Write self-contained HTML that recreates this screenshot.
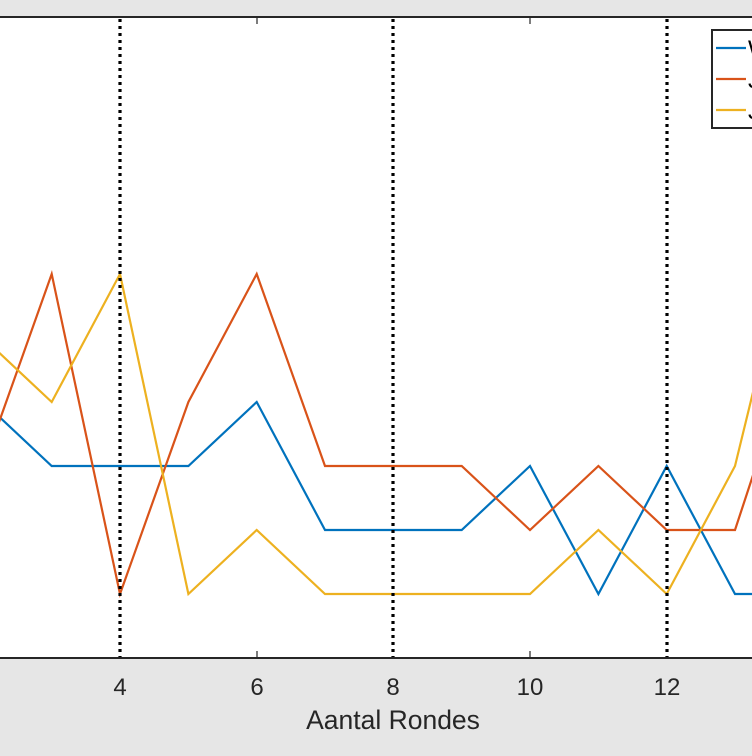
<!DOCTYPE html>
<html><head><style>body{margin:0;background:#e6e6e6;}svg{display:block}</style></head><body>
<svg width="752" height="756" xmlns="http://www.w3.org/2000/svg">
<rect x="0" y="0" width="752" height="756" fill="#e6e6e6"/>
<rect x="0" y="17" width="752" height="641" fill="#fff"/>
<defs><clipPath id="c"><rect x="0" y="17" width="752" height="641"/></clipPath></defs>
<g clip-path="url(#c)" fill="none" stroke-width="2.2" stroke-linejoin="miter">
<polyline stroke="#0072bd" points="-16.6,402 51.7,466 120,466 188.4,466 256.7,402 325,530 393.4,530 461.7,530 530,466 598.4,594 666.7,466 735,594 803.4,594"/>
<polyline stroke="#d95319" points="-16.6,466 51.7,274 120,594 188.4,402 256.7,274 325,466 393.4,466 461.7,466 530,530 598.4,466 666.7,530 735,530 803.4,322"/>
<polyline stroke="#edb120" points="-16.6,338 51.7,402 120,274 188.4,594 256.7,530 325,594 393.4,594 461.7,594 530,594 598.4,530 666.7,594 735,466 803.4,186"/>
</g>
<g stroke="#000" stroke-width="3.2" stroke-dasharray="3,4">
<line x1="120" y1="19" x2="120" y2="658"/>
<line x1="393" y1="19" x2="393" y2="658"/>
<line x1="667" y1="19" x2="667" y2="658"/>
</g>
<g stroke="#262626" stroke-width="1.2">
<line x1="257" y1="658" x2="257" y2="651"/><line x1="530" y1="658" x2="530" y2="651"/>
<line x1="257" y1="17" x2="257" y2="24"/><line x1="530" y1="17" x2="530" y2="24"/>
</g>
<line x1="0" y1="17" x2="752" y2="17" stroke="#262626" stroke-width="2"/>
<line x1="0" y1="658" x2="752" y2="658" stroke="#262626" stroke-width="2"/>
<rect x="712" y="30" width="50" height="98" fill="#fff" stroke="#262626" stroke-width="2"/>
<line x1="716" y1="48" x2="746" y2="48" stroke="#0072bd" stroke-width="2.2"/>
<line x1="716" y1="79" x2="746" y2="79" stroke="#d95319" stroke-width="2.2"/>
<line x1="716" y1="110" x2="746" y2="110" stroke="#edb120" stroke-width="2.2"/>
<g font-family="Liberation Sans, sans-serif" font-size="24" fill="#000">
<text x="748" y="57">W</text><text x="748" y="88">J</text><text x="748" y="119">J</text>
</g>
<g font-family="Liberation Sans, sans-serif" font-size="24" fill="#262626" text-anchor="middle">
<text x="120" y="695">4</text><text x="257" y="695">6</text><text x="393" y="695">8</text><text x="530" y="695">10</text><text x="667" y="695">12</text>
<text x="393" y="729" font-size="26.5">Aantal Rondes</text>
</g>
</svg>
</body></html>
